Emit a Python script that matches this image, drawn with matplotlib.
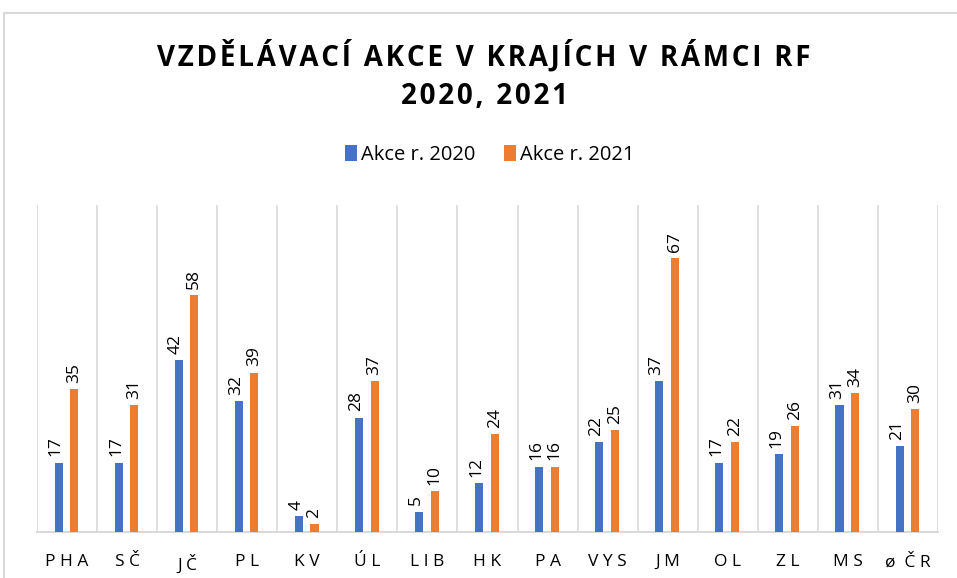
import numpy as np
import matplotlib.pyplot as plt
from matplotlib.patches import Rectangle

kraje = ["PHA", "SČ", "JČ", "PL", "KV", "ÚL", "LIB", "HK", "PA", "VYS",
         "JM", "OL", "ZL", "MS", "ø ČR"]
akce_2020 = [17, 17, 42, 32, 4, 28, 5, 12, 16, 22, 37, 17, 19, 31, 21]
akce_2021 = [35, 31, 58, 39, 2, 37, 10, 24, 16, 25, 67, 22, 26, 34, 30]

blue = "#4472C4"
orange = "#ED7D31"
grid_c = "#D9D9D9"

plt.rcParams['font.family'] = ['Open Sans', 'DejaVu Sans']


def spaced(s, sep="\u200a"):
    # poor man's letter spacing
    return sep.join(s)


fig = plt.figure(figsize=(9.57, 5.78), dpi=100)
fig.patches.append(Rectangle((4 / 957, -0.1), 1.1, 1 - 13 / 578 + 0.1,
                             transform=fig.transFigure, fill=False,
                             edgecolor=grid_c, linewidth=1.5))
ax = fig.add_axes([37 / 957, 1 - 532 / 578, 901 / 957, 327 / 578])

x = np.arange(len(kraje))
w = 0.135
b1 = ax.bar(x - 0.14, akce_2020, w, color=blue, label="Akce r. 2020", zorder=3)
b2 = ax.bar(x + 0.12, akce_2021, w, color=orange, label="Akce r. 2021", zorder=3)

for bars, vals, dx in ((b1, akce_2020, -0.045), (b2, akce_2021, 0.0)):
    for r, v in zip(bars, vals):
        ax.text(r.get_x() + r.get_width() / 2 + dx, v + 1.5, str(v),
                rotation=90, ha="center", va="bottom", fontsize=12.5,
                color="#000000", linespacing=1.0)

ax.set_xlim(-0.5, len(kraje) - 0.5)
ax.set_ylim(0, 80)
for b in np.arange(-0.5, len(kraje) + 0.5, 1):
    ax.axvline(b, color=grid_c, linewidth=1.2, zorder=1)
for s in ["top", "right", "left"]:
    ax.spines[s].set_visible(False)
ax.spines["bottom"].set_color(grid_c)
ax.spines["bottom"].set_linewidth(1.5)
ax.set_yticks([])
ax.set_xticks(x)
ax.set_xticklabels([" ".join(k) if k != "ø ČR" else "ø  Č R" for k in kraje],
                   fontsize=12.5)
ax.tick_params(axis="x", length=0, pad=16)

fig.text(0.506, 1 - 56 / 578, spaced("VZDĚLÁVACÍ AKCE V KRAJÍCH V RÁMCI RF"),
         ha="center", va="center", fontsize=20, fontweight="bold")
fig.text(0.506, 1 - 96 / 578, spaced("2020, 2021"),
         ha="center", va="center", fontsize=20, fontweight="bold")

fig.legend(handles=[b1, b2], loc="center", bbox_to_anchor=(0.512, 1 - 155 / 578),
           ncol=2, frameon=False, fontsize=14.5, handlelength=0.6,
           handleheight=0.8, handletextpad=0.2, columnspacing=1.4)

fig.savefig("out.png", dpi=100)
